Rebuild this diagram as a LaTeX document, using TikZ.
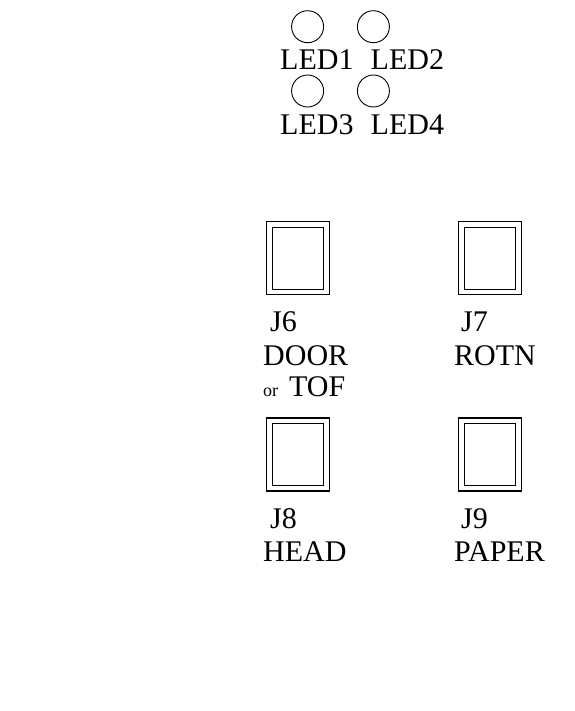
\documentclass[tikz,border=0pt]{standalone}
\usepackage{fontspec}
\setmainfont{Liberation Serif}

\begin{document}
\begin{tikzpicture}[
    x=1pt, y=-1pt,
    led/.style={circle, draw, line width=0.9pt, minimum size=32pt, inner sep=0pt},
    jack/.style={draw, line width=1.3pt, minimum width=63pt, minimum height=73pt, inner sep=0pt},
    socket/.style={draw, line width=1.3pt, minimum width=51pt, minimum height=62pt, inner sep=0pt},
    lbl/.style={anchor=base west, inner sep=0pt, font=\fontsize{30}{30}\selectfont},
    tiny lbl/.style={anchor=base west, inner sep=0pt, font=\fontsize{18}{18}\selectfont}
]
    \useasboundingbox (0,0) rectangle (574,711);

    % LEDs
    \node[led] (led1) at (307.6,26.7) {};
    \node[led] (led2) at (373.4,26.7) {};
    \node[led] (led3) at (307.6,91) {};
    \node[led] (led4) at (373.4,91) {};
    \node[lbl] (l1) at (280,70) {LED1};
    \node[lbl] (l2) at (370.5,70) {LED2};
    \node[lbl] (l3) at (280,134.5) {LED3};
    \node[lbl] (l4) at (370.5,134.5) {LED4};

    % Jacks (outer frame + inner socket)
    \node[jack] (j6) at (298,258.3) {};
    \node[socket] (j6i) at (298,258.6) {};
    \node[jack] (j7) at (490,258.3) {};
    \node[socket] (j7i) at (490,258.6) {};
    \node[jack] (j8) at (298,454.5) {};
    \node[socket] (j8i) at (298,454.8) {};
    \node[jack] (j9) at (490,454.5) {};
    \node[socket] (j9i) at (490,454.8) {};

    % Jack labels
    \node[lbl] (t6) at (270,331.7) {J6};
    \node[lbl] (n6) at (263,365) {DOOR};
    \node[tiny lbl] (or6) at (263,396.7) {or};
    \node[lbl] (m6) at (289,396.7) {TOF};
    \node[lbl] (t7) at (461,331.7) {J7};
    \node[lbl] (n7) at (454,365) {ROTN};
    \node[lbl] (t8) at (270,528.3) {J8};
    \node[lbl] (n8) at (263,561.7) {HEAD};
    \node[lbl] (t9) at (461,528.3) {J9};
    \node[lbl] (n9) at (454,561.7) {PAPER};
\end{tikzpicture}
\end{document}
